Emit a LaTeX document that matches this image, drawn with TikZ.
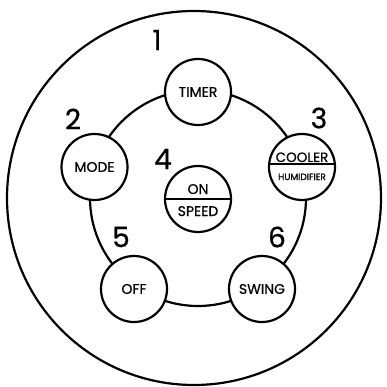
\documentclass[tikz,border=0pt]{standalone}
\usepackage{fontspec}
\setmainfont{Poppins}[FakeBold=0.7]
\begin{document}
\begin{tikzpicture}[x=1pt,y=-1pt,
  line width=2.2pt,
  btn/.style={circle,draw,fill=white,minimum size=66pt,inner sep=0pt},
  lbl/.style={font=\fontsize{14}{14}\selectfont},
  small/.style={font=\fontsize{9}{9}\selectfont},
  num/.style={font=\fontsize{28}{28}\selectfont}]
\useasboundingbox (0,0) rectangle (386,387);
\begin{scope}
\clip (0,0) rectangle (386,387);
\draw (194,198) circle (187);
\end{scope}
\draw (198,198) circle (108);
\node[btn] (timer) at (198,92) {};
\node[btn] (mode) at (94.5,167) {};
\node[btn] (cool) at (302,167) {};
\node[btn] (off) at (134,289) {};
\node[btn] (swing) at (262,289) {};
\node[btn] (speed) at (198,199) {};
\node[lbl] at (timer) {TIMER};
\node[lbl] at (mode) {MODE};
\node[lbl] at (off) {OFF};
\node[lbl] at (swing) {SWING};
\draw ([yshift=3pt]cool.west) -- ([yshift=3pt]cool.east);
\node[lbl,anchor=base,font=\fontsize{13.5}{13.5}\selectfont] at ([yshift=5pt]cool.center) {COOLER};
\node[small,anchor=base] at ([yshift=-13pt]cool.center) {HUMIDIFIER};
\draw (speed.west) -- (speed.east);
\node[lbl,anchor=base] at ([yshift=5pt]speed.center) {ON};
\node[lbl,anchor=base] at ([yshift=-17pt]speed.center) {SPEED};
\node[num] (n1) at (157,40) {1};
\node[num] (n2) at (73,119) {2};
\node[num] (n3) at (319,118) {3};
\node[num] (n4) at (163,159) {4};
\node[num] (n5) at (121,237) {5};
\node[num] (n6) at (277,237) {6};
\end{tikzpicture}
\end{document}
